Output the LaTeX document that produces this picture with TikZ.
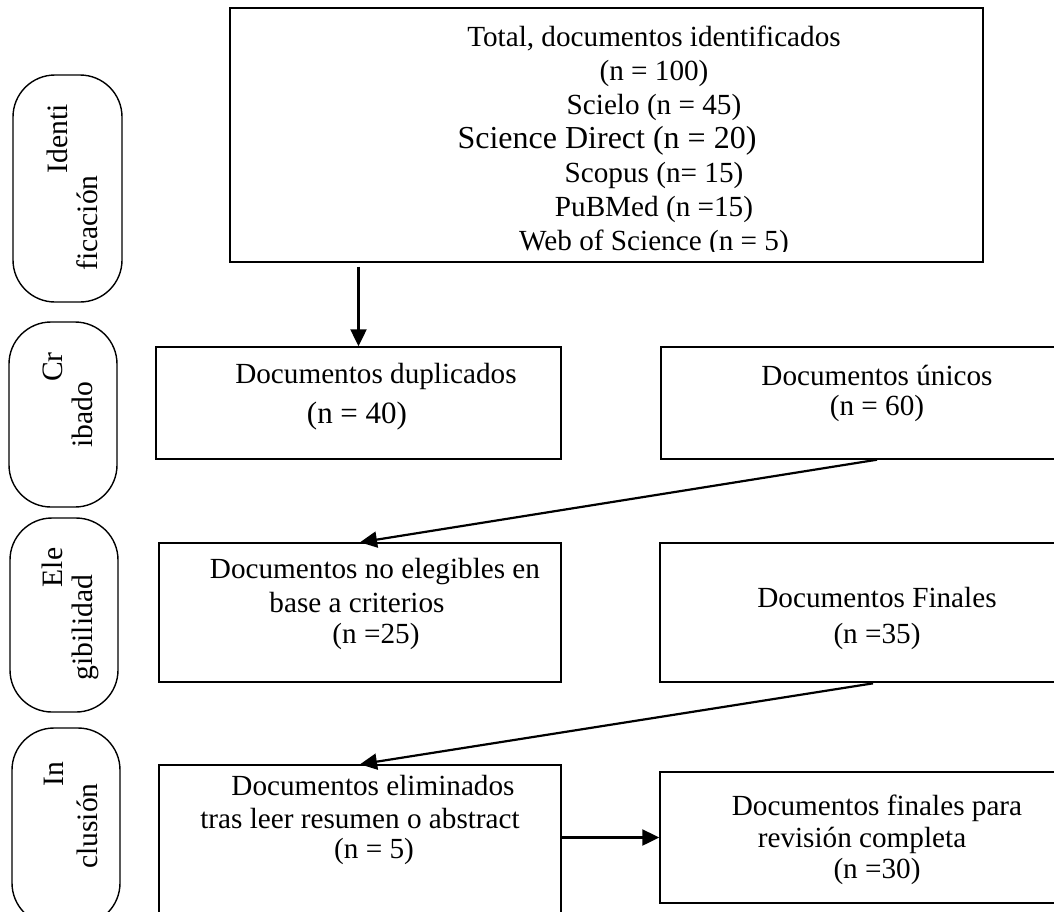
\documentclass[tikz,border=0pt]{standalone}
\usepackage{fontspec}
\setmainfont{Liberation Serif}
\usetikzlibrary{arrows.meta}

\begin{document}
\begin{tikzpicture}[x=0.5pt,y=-0.5pt,
  box/.style={draw, line width=0.7pt, inner sep=0pt},
  lane/.style={draw, line width=0.7pt, rounded corners=21pt, inner sep=0pt},
  txt/.style={font=\fontsize{14.6}{17}\selectfont, align=center, inner sep=0pt, anchor=base},
  lanetxt/.style={font=\fontsize{14.8}{17}\selectfont, rotate=90, inner sep=0pt, anchor=base},
  flow/.style={line width=1.1pt, -{Triangle[length=8.5pt,width=8pt]}}]
\useasboundingbox (0,0) rectangle (1054,911);
\clip (0,0) rectangle (1054,911);

%%% The lanes on the left
\node[lane, minimum width=54.5pt, minimum height=113.5pt] (ident) at (67.5,188.5) {};
\node[lane, minimum width=54pt, minimum height=92.5pt] (crib) at (63,414.5) {};
\node[lane, minimum width=54pt, minimum height=97pt] (eleg) at (64,615) {};
\node[lane, minimum width=54pt, minimum height=98.5pt] (incl) at (66,826.5) {};
\node[lanetxt] (identA) at (67,139) {Identi};
\node[lanetxt] (identB) at (97,223) {ficación};
\node[lanetxt] (cribA) at (62,367) {Cr};
\node[lanetxt] (cribB) at (92,415) {ibado};
\node[lanetxt] (elegA) at (62,567.5) {Ele};
\node[lanetxt] (elegB) at (92,627.5) {gibilidad};
\node[lanetxt] (inclA) at (63,774.5) {In};
\node[lanetxt] (inclB) at (97,826) {clusión};

%%% The boxes of the flow
\node[box, minimum width=376.5pt, minimum height=127pt] (src) at (606.5,135) {};
\node[box, minimum width=202.5pt, minimum height=56pt] (dup) at (358.5,403) {};
\node[box, minimum width=216pt, minimum height=56pt] (uni) at (877,403) {};
\node[box, minimum width=201pt, minimum height=69.5pt] (noel) at (360,612.5) {};
\node[box, minimum width=217pt, minimum height=69.5pt] (fin) at (877,612.5) {};
\node[box, minimum width=201pt, minimum height=75pt] (elim) at (360,840) {};
\node[box, minimum width=217pt, minimum height=65.5pt] (fp) at (877,837.5) {};

%%% The texts of the boxes (placed on their last line)
\begin{scope}
\clip (src.north west) rectangle ([yshift=5.5pt]src.south east);
\node[txt] (srcT) at (654,250) {Total, documentos identificados\\(n = 100)\\Scielo (n = 45)\\
{\fontsize{16}{17}\selectfont Science Direct (n = 20)}\hspace*{47pt}\mbox{}\\Scopus (n= 15)\\PuBMed (n =15)\\Web of Science (n = 5)};
\end{scope}
\node[txt] (dupT) at (366.5,423) {\hspace*{9.5pt}Documentos duplicados\\[3pt]
{\fontsize{15.5}{17}\selectfont (n = 40)}\hspace*{9.5pt}\mbox{}};
\node[txt] (uniT) at (877,415) {Documentos únicos\\[-2pt](n = 60)};
\node[txt] (noelT) at (366,643) {\hspace*{9pt}Documentos no elegibles en\\base a criterios\hspace*{9pt}\mbox{}\\[-1.5pt]
\hspace*{10pt}(n =25)};
\node[txt] (finT) at (877,643) {Documentos Finales\\[1pt](n =35)};
\node[txt] (elimT) at (367,858) {\hspace*{6pt}Documentos eliminados\\[-0.5pt]tras leer resumen o abstract\hspace*{7pt}\mbox{}\\[-2pt]
\hspace*{7pt}(n = 5)};
\node[txt] (fpT) at (872,878) {\hspace*{5pt}Documentos finales para\\[-1pt]revisión completa\hspace*{10pt}\mbox{}\\[-1.5pt]
\hspace*{5pt}(n =30)};

%%% The arrows
\draw[flow, shorten <=2pt] (dup.north |- src.south) -- (dup.north);
\draw[flow] (uni.south) -- (noel.north);
\draw[flow, shorten <=2pt] (fin.south) -- (elim.north);
\draw[flow] (elim.east |- fp.west) -- (fp.west);
\end{tikzpicture}
\end{document}
